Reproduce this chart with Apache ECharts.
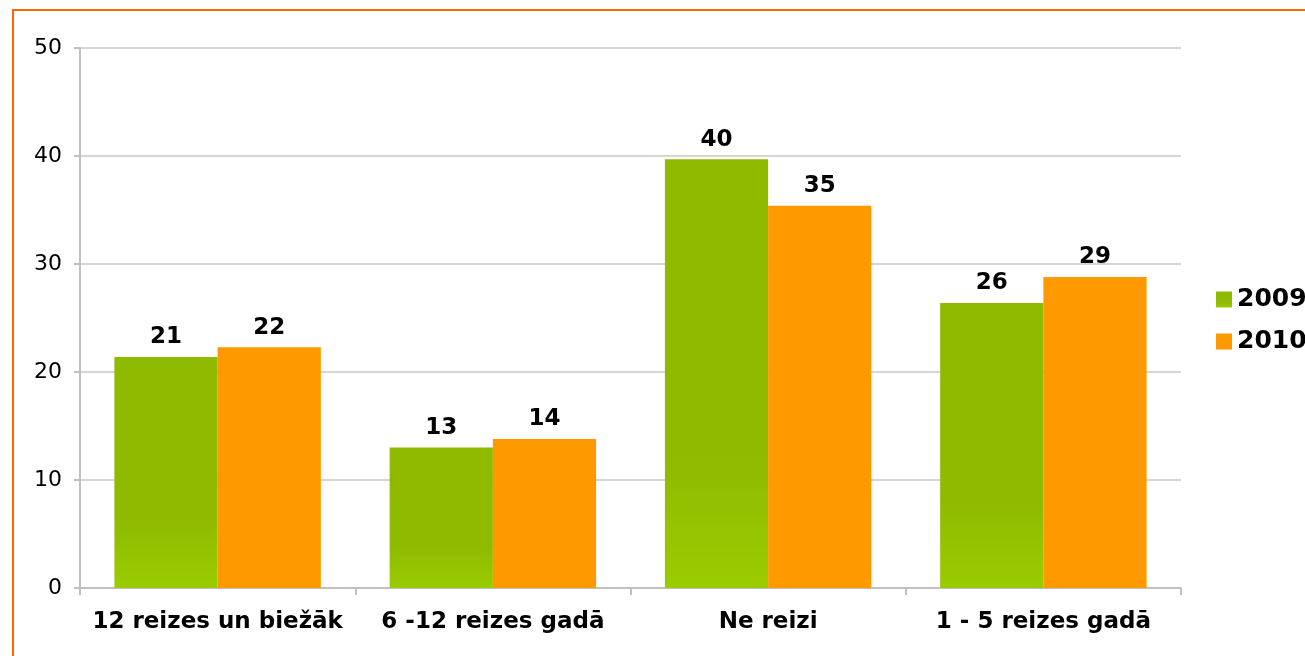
<!DOCTYPE html>
<html>
<head>
<meta charset="utf-8">
<script src="https://cdn.jsdelivr.net/npm/echarts@6/dist/echarts.min.js"></script>
<style>
  html, body { margin: 0; padding: 0; background: #fff; overflow: hidden; }
  #frame { position: absolute; left: 12px; top: 9px; width: 1400px; height: 800px; border: 2px solid #ff6600; box-sizing: border-box; }
  #chart { position: absolute; left: 0; top: 0; width: 1305px; height: 656px; }
</style>
</head>
<body>
<div id="frame"></div>
<div id="chart"></div>
<script>
  var categories = ['12 reizes un biežāk', '6 -12 reizes gadā', 'Ne reizi', '1 - 5 reizes gadā'];
  var values2009 = [21.4, 13.0, 39.7, 26.4];
  var values2010 = [22.3, 13.8, 35.4, 28.8];
  var yTicks = [0, 10, 20, 30, 40, 50];

  var font = 'DejaVu Sans, Verdana, sans-serif';
  var myChart = echarts.init(document.getElementById('chart'));

  var labelStyle = {
    show: true,
    position: 'top',
    distance: 8,
    fontFamily: font,
    fontSize: 23,
    fontWeight: 'bold',
    color: '#000',
    formatter: function (p) { return Math.round(p.value); }
  };

  var option = {
    animation: false,
    grid: { left: 80, right: 124, top: 48, bottom: 68 },
    legend: {
      orient: 'vertical',
      left: 1211,
      top: 282,
      itemWidth: 16,
      itemHeight: 16,
      itemGap: 17,
      icon: 'rect',
      textStyle: { fontFamily: font, fontSize: 25, fontWeight: 'bold', color: '#000' },
      data: ['2009', '2010']
    },
    xAxis: {
      type: 'category',
      data: categories,
      axisLine: { lineStyle: { color: '#c0c0c0', width: 2 } },
      axisTick: { show: true, interval: 0, length: 7, lineStyle: { color: '#c0c0c0', width: 2 } },
      axisLabel: { interval: 0, hideOverlap: false, fontFamily: font, fontSize: 23, fontWeight: 'bold', color: '#000', margin: 23 }
    },
    yAxis: {
      type: 'value',
      min: yTicks[0],
      max: yTicks[yTicks.length - 1],
      interval: 10,
      axisLine: { show: true, lineStyle: { color: '#c0c0c0', width: 2 } },
      axisTick: { show: true, length: 6, lineStyle: { color: '#c0c0c0', width: 2 } },
      axisLabel: { fontFamily: font, fontSize: 22, color: '#000', margin: 18 },
      splitLine: { lineStyle: { color: '#c8c8c8', width: 1.5 } }
    },
    series: [
      {
        name: '2009',
        type: 'bar',
        data: values2009,
        barGap: '0%',
        barCategoryGap: '25%',
        itemStyle: {
          color: new echarts.graphic.LinearGradient(0, 0, 0, 1, [
            { offset: 0, color: '#8fba00' },
            { offset: 0.7, color: '#8fba00' },
            { offset: 1, color: '#9acc00' }
          ])
        },
        label: labelStyle
      },
      {
        name: '2010',
        type: 'bar',
        data: values2010,
        itemStyle: { color: '#ff9900' },
        label: labelStyle
      }
    ]
  };

  myChart.setOption(option);
</script>
</body>
</html>
